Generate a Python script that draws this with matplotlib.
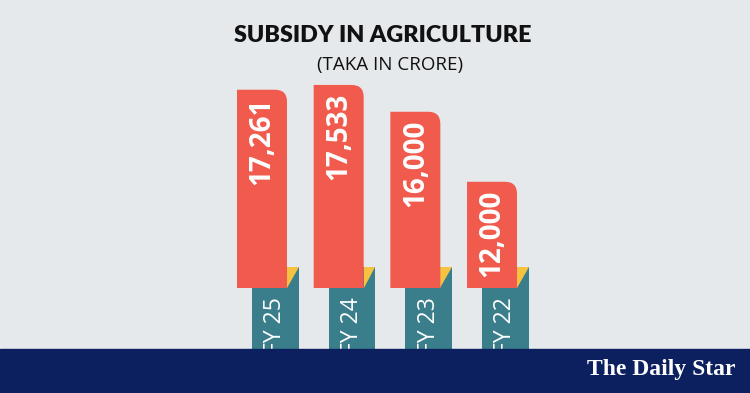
import numpy as np
import matplotlib.pyplot as plt
from matplotlib.patches import PathPatch, Rectangle
from matplotlib.path import Path

# colours
BG = '#e5e9ec'
RED = '#f15b4e'
TEAL = '#3b7e8b'
YELLOW = '#f5c242'
NAVY = '#0c1f5f'

# data (Taka in crore)
years = ['FY 25', 'FY 24', 'FY 23', 'FY 22']
subsidy = [17261, 17533, 16000, 12000]

BASE = 5930          # value where the red bars start (axis is not zero-based)
PX_X = 76.67         # pixels per category step
PX_Y = 0.0175        # pixels per crore

fig = plt.figure(figsize=(7.5, 3.93), dpi=100, facecolor=BG)
ax = fig.add_axes([0, 0, 1, 1])
ax.set_xlim(-262 / PX_X, (750 - 262) / PX_X)
ax.set_ylim(BASE - 105 / PX_Y, BASE + 288 / PX_Y)
ax.axis('off')

x = np.arange(len(years))
bar_w = 50 / PX_X

# teal tabs behind the bars
tab_top = BASE + 21 / PX_Y
tab_bot = BASE - 105 / PX_Y
tab_x = x - bar_w / 2 + 15 / PX_X
tab_w = 46.6 / PX_X
ax.bar(tab_x, tab_top - tab_bot, bottom=tab_bot, width=tab_w, align='edge',
       color=TEAL, zorder=1)

# red bars, top-right corner rounded
bars = ax.bar(x, np.array(subsidy) - BASE, bottom=BASE, width=bar_w, color=RED, zorder=3)
rx, ry = 12 / PX_X, 12 / PX_Y
for b in bars:
    x0, y0 = b.get_x(), b.get_y()
    x1, y1 = x0 + b.get_width(), y0 + b.get_height()
    verts = [(x0, y0), (x1, y0), (x1, y1 - ry), (x1, y1), (x1 - rx, y1), (x0, y1), (x0, y0)]
    codes = [Path.MOVETO, Path.LINETO, Path.LINETO, Path.CURVE3, Path.CURVE3,
             Path.LINETO, Path.CLOSEPOLY]
    b.set_visible(False)
    ax.add_patch(PathPatch(Path(verts, codes), fc=RED, ec='none', zorder=3))

    # yellow fold between bar and tab
    xr = x1 + 11.6 / PX_X
    ax.fill([x1, x1, xr], [y0, tab_top, tab_top], color=YELLOW, lw=0, zorder=2)

# values inside bars
for xi, v in zip(x, subsidy):
    ax.text(xi, v - 8 / PX_Y, f'{v:,}', rotation=90, ha='center', va='top',
            color='white', fontsize=20, fontweight='bold', family='Open Sans', zorder=4)

# fiscal year labels on tabs
for xi, yr in zip(tab_x + tab_w / 2, years):
    ax.text(xi, BASE - 9 / PX_Y, yr, rotation=90, ha='center', va='top',
            color='white', fontsize=16.5, family='Open Sans', zorder=4)

# title
fig.text(383 / 750, 1 - 36 / 393, 'SUBSIDY IN AGRICULTURE', ha='center', va='center',
         fontsize=16.8, fontweight='heavy', color='#111111', family=['Lato', 'DejaVu Sans'])
fig.text(390 / 750, 1 - 65 / 393, '(TAKA IN CRORE)', ha='center', va='center',
         fontsize=13.5, color='#111111', family='Open Sans')

# footer band with logo
fig.add_artist(Rectangle((0, 0), 1, 44 / 393, transform=fig.transFigure,
                         color=NAVY, zorder=10))
fig.text(661 / 750, 1 - 370 / 393, 'The Daily Star', ha='center', va='center',
         color='white', fontsize=17, fontweight='bold', family='Liberation Serif',
         zorder=11)

fig.savefig('out.png', dpi=100, facecolor=BG)
